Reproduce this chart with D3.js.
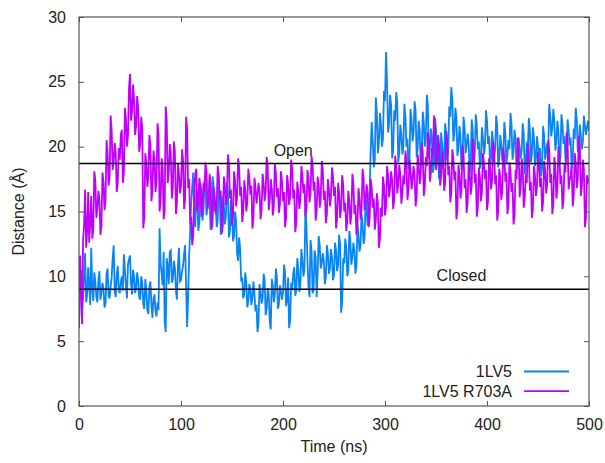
<!DOCTYPE html>
<meta charset="utf-8">
<script src="https://d3js.org/d3.v7.min.js"></script>
<style>
  body { margin: 0; background: #fff; }
  text { font-family: "Liberation Sans", Arial, sans-serif; fill: #222; }
</style>
<div id="chart"></div>
<script>
// sampling step of both trajectories (ns)
var step = 1;

// 1LV5 distance (Å), one value per ns from 0 to 500 ns
var wildType = [
  6.0, 9.8, 10.5, 7.6, 8.3, 9.9, 11.8, 8.0, 8.6, 10.7, 9.4, 7.8, 12.2, 9.0, 8.1, 10.3, 9.6, 8.4, 8.0, 9.7,
  10.4, 8.2, 8.7, 9.5, 9.1, 7.6, 7.9, 10.2, 10.6, 8.5, 8.3, 9.2, 9.9, 11.4, 12.4, 8.8, 8.4, 10.1, 10.8, 9.0,
  8.7, 9.6, 10.0, 8.9, 11.7, 10.5, 9.2, 8.3, 10.9, 11.3, 11.6, 9.4, 8.6, 10.5, 10.0, 8.7, 9.1, 10.3, 9.7, 8.4,
  8.2, 10.0, 9.5, 7.9, 7.5, 9.8, 8.9, 7.4, 7.1, 9.2, 9.6, 7.8, 6.8, 8.3, 8.6, 7.3, 6.9, 8.0, 7.4, 13.7,
  11.0, 10.2, 9.3, 11.9, 6.5, 5.7, 11.4, 10.8, 9.4, 11.9, 12.0, 9.5, 9.8, 11.2, 10.7, 8.9, 8.2, 10.9, 12.2, 9.6,
  9.7, 10.4, 10.8, 11.7, 12.4, 9.3, 6.1, 8.4, 11.6, 13.5, 15.8, 16.9, 18.0, 14.5, 13.8, 16.7, 15.9, 13.5, 14.2, 17.1,
  16.6, 14.3, 15.0, 17.4, 16.8, 14.7, 15.3, 16.5, 15.9, 13.6, 14.2, 17.7, 16.9, 15.0, 15.5, 13.8, 14.3, 16.9, 16.4, 13.2,
  13.7, 16.2, 15.6, 14.0, 14.6, 17.2, 16.6, 13.0, 13.5, 15.9, 15.1, 12.7, 13.1, 15.0, 14.3, 11.8, 11.2, 13.0, 12.1, 9.6,
  9.9, 8.3, 8.6, 10.3, 9.5, 7.6, 8.1, 9.4, 9.0, 7.8, 8.3, 9.6, 8.7, 7.3, 7.8, 5.7, 6.4, 9.4, 8.8, 7.9,
  8.3, 10.2, 9.7, 7.0, 7.5, 9.1, 8.6, 6.5, 5.9, 9.8, 9.3, 8.0, 8.6, 10.6, 9.9, 7.5, 7.9, 9.3, 8.8, 8.2,
  8.7, 10.9, 10.3, 7.7, 8.2, 9.9, 6.0, 6.6, 9.5, 9.0, 10.2, 10.7, 8.5, 8.9, 11.4, 10.6, 8.8, 9.3, 12.1, 11.3,
  10.0, 10.5, 15.4, 13.8, 11.2, 9.2, 8.4, 12.8, 12.0, 8.7, 9.0, 12.0, 11.5, 8.4, 10.3, 13.1, 12.4, 10.6, 11.0, 11.8,
  11.2, 9.4, 9.9, 12.4, 11.8, 10.2, 10.6, 12.1, 11.5, 9.7, 10.1, 12.6, 12.0, 10.4, 10.9, 13.2, 12.5, 7.2, 8.0, 11.4,
  11.0, 12.9, 12.3, 10.0, 10.4, 13.5, 12.8, 10.9, 11.5, 12.6, 12.0, 10.2, 10.8, 14.0, 13.2, 11.9, 12.4, 14.8, 14.0, 12.5,
  13.0, 16.0, 15.2, 13.9, 14.5, 16.8, 19.8, 21.9, 20.4, 18.4, 19.0, 23.8, 22.6, 19.5, 20.2, 22.6, 21.7, 20.0, 20.6, 24.3,
  23.5, 27.3, 25.0, 21.1, 21.8, 24.0, 23.2, 19.1, 19.7, 22.8, 22.0, 24.2, 23.4, 18.8, 19.5, 21.7, 21.0, 19.4, 20.0, 23.3,
  22.4, 20.0, 20.6, 18.3, 18.9, 22.9, 22.1, 20.4, 21.0, 23.5, 22.8, 19.2, 19.8, 22.0, 21.3, 18.5, 19.1, 22.7, 21.9, 20.0,
  20.6, 24.0, 23.2, 19.1, 19.8, 21.4, 20.7, 18.0, 18.6, 22.2, 21.4, 19.6, 20.2, 17.5, 18.1, 21.1, 20.2, 18.5, 19.2, 21.8,
  21.0, 19.0, 19.6, 23.1, 22.3, 24.6, 23.6, 20.4, 21.0, 23.0, 22.2, 19.3, 19.9, 21.6, 20.8, 18.2, 18.8, 22.3, 21.5, 19.5,
  20.1, 21.0, 20.2, 18.0, 18.6, 22.1, 21.3, 18.8, 19.4, 22.5, 21.6, 19.8, 20.4, 18.3, 18.9, 21.5, 20.7, 19.4, 20.0, 22.8,
  22.0, 20.2, 20.8, 18.6, 19.2, 21.2, 20.4, 19.2, 19.8, 22.4, 21.6, 18.4, 19.0, 20.9, 20.1, 18.9, 19.5, 21.9, 21.0, 18.7,
  19.3, 20.5, 19.8, 22.6, 21.8, 19.0, 19.6, 21.3, 20.5, 18.2, 18.8, 20.7, 19.9, 19.1, 19.7, 21.8, 21.0, 17.9, 18.5, 20.4,
  19.6, 22.2, 21.4, 18.8, 19.4, 21.5, 20.7, 18.5, 19.1, 20.8, 20.0, 19.3, 19.9, 17.7, 18.3, 21.6, 20.8, 19.0, 19.6, 20.3,
  19.5, 23.3, 22.4, 20.8, 21.4, 22.9, 22.0, 19.7, 20.3, 22.0, 21.2, 18.6, 19.2, 22.5, 21.7, 20.2, 20.8, 18.9, 19.5, 22.1,
  21.3, 20.1, 20.7, 18.3, 18.9, 21.4, 20.6, 23.0, 22.1, 19.6, 20.2, 21.7, 20.9, 19.8, 20.4, 22.4, 21.6, 20.9, 21.5, 22.0,
  21.2
];

// 1LV5 R703A distance (Å), same sampling
var mutant = [
  6.0, 11.6, 9.0, 6.3, 12.8, 14.0, 16.7, 12.2, 13.5, 16.5, 12.6, 14.1, 16.2, 12.9, 13.6, 18.1, 17.4, 14.5, 15.2, 16.6,
  16.0, 13.2, 13.9, 18.0, 17.3, 15.1, 15.8, 20.5, 19.6, 17.0, 17.6, 22.4, 21.3, 18.2, 18.9, 20.3, 19.5, 16.5, 17.2, 19.9,
  19.0, 20.9, 21.3, 17.2, 18.0, 23.0, 22.2, 20.0, 20.8, 24.5, 25.6, 22.0, 22.7, 24.8, 23.6, 20.9, 21.6, 23.9, 23.0, 19.6,
  20.2, 22.3, 21.4, 13.7, 14.5, 19.5, 18.8, 16.9, 17.7, 20.9, 20.2, 15.8, 16.6, 19.7, 19.0, 16.5, 17.3, 21.8, 20.9, 15.0,
  15.7, 19.1, 18.4, 14.4, 15.1, 23.1, 22.0, 17.2, 18.0, 20.2, 19.5, 16.0, 16.8, 20.4, 19.6, 14.8, 15.6, 18.7, 17.9, 16.4,
  17.0, 19.8, 19.0, 15.2, 15.9, 22.3, 21.4, 16.8, 17.5, 14.0, 14.6, 12.4, 13.2, 16.6, 17.9, 18.3, 15.0, 15.6, 17.6, 17.0,
  14.6, 15.3, 17.2, 16.5, 18.8, 18.1, 15.2, 15.9, 17.9, 17.2, 13.6, 14.3, 16.9, 16.2, 14.8, 15.5, 18.5, 17.8, 15.9, 16.6,
  13.3, 14.0, 17.7, 17.0, 15.5, 16.2, 19.4, 18.7, 16.0, 16.7, 13.9, 14.6, 18.1, 17.4, 15.4, 16.1, 19.1, 18.4, 16.2, 16.9,
  14.2, 14.9, 17.4, 16.7, 15.0, 15.7, 18.3, 17.6, 16.3, 17.0, 13.7, 14.4, 17.6, 16.9, 15.6, 16.3, 17.2, 16.5, 14.4, 15.1,
  17.9, 17.2, 15.8, 16.5, 19.2, 18.5, 15.1, 15.8, 17.5, 16.8, 14.7, 15.4, 18.7, 18.0, 16.1, 16.8, 14.9, 15.6, 18.1, 17.4,
  15.8, 16.5, 13.8, 14.5, 17.8, 17.1, 15.5, 16.2, 19.0, 18.3, 16.0, 16.7, 13.4, 14.1, 17.3, 16.6, 15.2, 15.9, 18.5, 17.8,
  16.4, 17.1, 14.6, 15.3, 18.2, 17.5, 15.7, 16.4, 19.3, 18.6, 16.6, 17.3, 14.3, 15.0, 17.7, 17.0, 15.3, 16.0, 18.9, 18.2,
  15.9, 16.6, 14.1, 14.8, 17.5, 16.8, 15.4, 16.1, 18.4, 17.7, 16.2, 16.9, 13.7, 14.4, 17.2, 16.5, 14.5, 15.2, 17.8, 17.1,
  15.0, 15.7, 13.5, 14.2, 16.6, 15.9, 14.0, 14.7, 17.9, 17.2, 14.8, 15.5, 13.2, 13.9, 16.8, 16.1, 14.4, 15.1, 18.3, 17.6,
  15.1, 15.8, 17.1, 16.4, 13.8, 14.5, 17.5, 16.8, 15.3, 16.0, 13.6, 14.3, 16.4, 15.7, 12.2, 12.9, 15.3, 14.6, 17.7, 17.0,
  14.7, 15.4, 18.5, 17.8, 16.1, 16.8, 18.1, 17.4, 15.2, 15.9, 19.3, 18.6, 16.4, 17.1, 18.6, 17.9, 15.6, 16.3, 17.8, 17.1,
  19.7, 19.0, 15.9, 16.6, 19.0, 18.3, 16.7, 17.4, 18.5, 17.8, 15.4, 16.1, 19.4, 18.7, 17.1, 17.8, 20.3, 19.6, 16.2, 16.9,
  19.2, 18.5, 21.1, 20.4, 17.3, 18.0, 19.9, 19.2, 22.4, 21.6, 18.2, 18.9, 20.9, 20.2, 17.0, 17.7, 19.6, 18.9, 16.6, 17.3,
  21.2, 20.5, 17.8, 18.5, 15.7, 16.4, 19.8, 19.1, 17.4, 18.1, 14.4, 15.1, 18.6, 17.9, 16.0, 16.7, 20.1, 19.4, 16.8, 17.5,
  14.9, 15.6, 18.9, 18.2, 16.3, 17.0, 20.6, 19.9, 17.2, 17.9, 14.6, 15.3, 18.4, 17.7, 15.8, 16.5, 19.5, 18.8, 17.5, 18.2,
  15.1, 15.8, 19.1, 18.4, 16.7, 17.4, 20.4, 19.7, 17.1, 17.8, 14.3, 15.0, 18.3, 17.6, 15.9, 16.6, 19.9, 19.2, 17.3, 18.0,
  14.8, 15.5, 18.8, 18.1, 16.5, 17.2, 14.0, 14.7, 18.2, 17.5, 20.7, 20.0, 16.1, 16.8, 19.1, 18.4, 15.3, 16.0, 17.9, 17.2,
  20.2, 19.5, 16.6, 17.3, 14.5, 15.2, 18.5, 17.8, 16.2, 16.9, 19.6, 18.9, 16.9, 17.6, 15.0, 15.7, 18.9, 18.2, 16.4, 17.1,
  20.5, 19.8, 17.2, 17.9, 14.8, 15.5, 19.2, 18.5, 16.0, 16.7, 20.0, 19.3, 17.1, 17.8, 15.2, 15.9, 18.7, 18.0, 21.1, 20.4,
  16.7, 17.4, 17.8, 18.5, 15.4, 16.1, 19.5, 18.8, 16.8, 17.5, 20.8, 20.1, 16.2, 16.9, 19.0, 18.3, 13.8, 14.5, 17.8, 17.3,
  17.5
];

var seriesNames = ["1LV5", "1LV5 R703A"];
var seriesColors = ["#0a84f5", "#c000ff"];

// reference distances
var refLevels = [18.7, 9.0];
var refLabels = ["Open", "Closed"];
var refLabelTimes = [210, 375];

var xTicks = [0, 100, 200, 300, 400, 500];
var yTicks = [0, 5, 10, 15, 20, 25, 30];

var W = 605, H = 463;
var margin = {top: 17, right: 16, bottom: 57, left: 79},
    width = W - margin.left - margin.right,
    height = H - margin.top - margin.bottom;

var svg = d3.select("#chart")
  .append("svg")
    .attr("width", W)
    .attr("height", H);

var g = svg.append("g")
    .attr("transform", "translate(" + margin.left + "," + margin.top + ")");

var x = d3.scaleLinear().domain([0, 500]).range([0, width]);
var y = d3.scaleLinear().domain([0, 30]).range([height, 0]);

// clip so the traces stay inside the frame
g.append("clipPath").attr("id", "clip")
  .append("rect").attr("width", width).attr("height", height);

var line = d3.line()
    .x(function(d, i) { return x(i * step); })
    .y(function(d) { return y(d); });

var traces = g.append("g").attr("clip-path", "url(#clip)");
[wildType, mutant].forEach(function(s, k) {
  traces.append("path")
    .datum(s)
    .attr("fill", "none")
    .attr("stroke", seriesColors[k])
    .attr("stroke-width", 1.8)
    .attr("d", line);
});

// open / closed reference lines
refLevels.forEach(function(v, k) {
  g.append("line")
    .attr("x1", 0).attr("x2", width)
    .attr("y1", y(v)).attr("y2", y(v))
    .attr("stroke", "#000")
    .attr("stroke-width", 1.6);
  g.append("text")
    .attr("x", x(refLabelTimes[k]))
    .attr("y", y(v) - 8)
    .attr("text-anchor", "middle")
    .style("font-size", "16px")
    .text(refLabels[k]);
});

// axes (gnuplot style: inward ticks, mirrored)
var tickLen = 5;
var axisColor = "#555";

function styleAxis(sel) {
  sel.select(".domain").remove();
  sel.selectAll("line").attr("stroke", axisColor);
  sel.selectAll("text").style("font-size", "16px").attr("fill", "#222");
}

g.append("g")
  .attr("transform", "translate(0," + height + ")")
  .call(d3.axisBottom(x).tickValues(xTicks).tickSizeInner(-tickLen).tickPadding(13).tickSizeOuter(0))
  .call(styleAxis);

g.append("g")
  .call(d3.axisTop(x).tickValues(xTicks).tickSizeInner(-tickLen).tickSizeOuter(0).tickFormat(""))
  .call(styleAxis);

g.append("g")
  .call(d3.axisLeft(y).tickValues(yTicks).tickSizeInner(-tickLen).tickPadding(13).tickSizeOuter(0))
  .call(styleAxis);

g.append("g")
  .attr("transform", "translate(" + width + ",0)")
  .call(d3.axisRight(y).tickValues(yTicks).tickSizeInner(-tickLen).tickSizeOuter(0).tickFormat(""))
  .call(styleAxis);

g.append("rect")
  .attr("width", width).attr("height", height)
  .attr("fill", "none")
  .attr("stroke", axisColor)
  .attr("stroke-width", 1.2);

// axis titles
svg.append("text")
  .attr("x", margin.left + width / 2)
  .attr("y", 452)
  .attr("text-anchor", "middle")
  .style("font-size", "16px")
  .text("Time (ns)");

svg.append("text")
  .attr("transform", "translate(24," + (margin.top + height / 2) + ") rotate(-90)")
  .attr("text-anchor", "middle")
  .style("font-size", "16px")
  .text("Distance (Å)");

// legend
var legend = g.append("g");
seriesNames.forEach(function(name, k) {
  var ly = 354.5 + k * 19.6;
  legend.append("text")
    .attr("x", 433)
    .attr("y", ly)
    .attr("dy", "0.35em")
    .attr("text-anchor", "end")
    .style("font-size", "16px")
    .text(name);
  legend.append("line")
    .attr("x1", 445).attr("x2", 490)
    .attr("y1", ly).attr("y2", ly)
    .attr("stroke", seriesColors[k])
    .attr("stroke-width", 1.8);
});
</script>
